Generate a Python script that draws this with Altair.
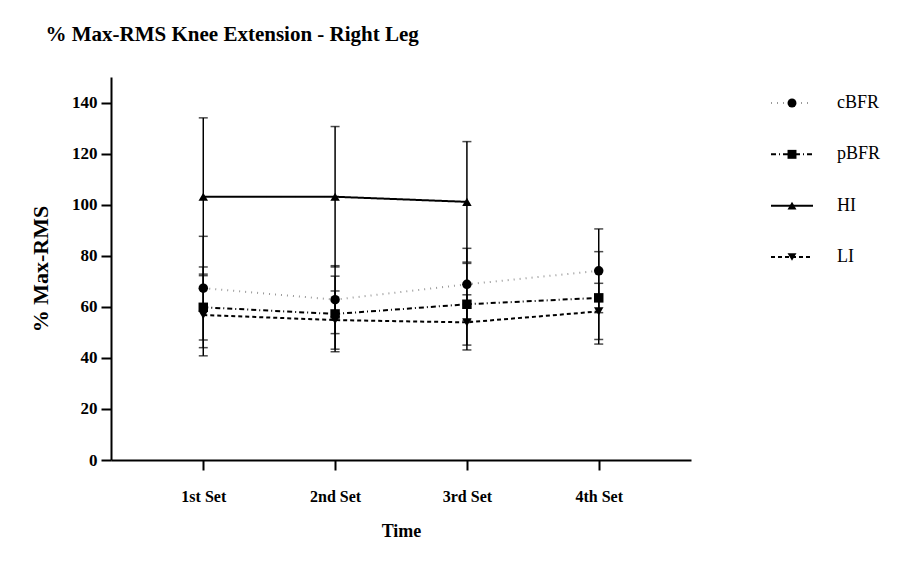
import altair as alt
import pandas as pd

times = ["1st Set", "2nd Set", "3rd Set", "4th Set"]
series = ["cBFR", "pBFR", "HI", "LI"]

cbfr_mean = [67.3, 62.8, 68.8, 74.1]
cbfr_sd = [20.3, 13.3, 14.1, 16.4]
pbfr_mean = [59.8, 57.2, 61.0, 63.5]
pbfr_sd = [15.8, 14.8, 16.0, 18.1]
hi_mean = [103.1, 103.1, 101.1, None]
hi_sd = [30.9, 27.5, 23.6, None]
li_mean = [56.8, 54.8, 53.9, 58.2]
li_sd = [16.0, 11.4, 10.8, 11.0]

y_ticks = [0, 20, 40, 60, 80, 100, 120, 140]

rows = []
for name, means, sds in [("cBFR", cbfr_mean, cbfr_sd), ("pBFR", pbfr_mean, pbfr_sd),
                         ("HI", hi_mean, hi_sd), ("LI", li_mean, li_sd)]:
    for t, m, s in zip(times, means, sds):
        if m is not None:
            rows.append({"series": name, "time": t, "mean": m, "sd": s})
df = pd.DataFrame(rows)
legend_df = pd.DataFrame({"series": series})

FONT = "Liberation Serif"
dash_range = [[1, 5], [5, 3, 1, 3], [1, 0], [4, 3]]
color_range = ["#9a9a9a", "black", "black", "black"]
shape_range = ["circle", "square", "triangle-up", "triangle-down"]

x_enc = alt.X("time:N", sort=times,
              scale=alt.Scale(type="point", padding=0.7),
              axis=alt.Axis(title="Time", labelAngle=0, labelFont=FONT, labelFontSize=16,
                            labelFontWeight="bold", labelColor="black", labelPadding=18,
                            titleFont=FONT, titleFontSize=18, titleFontWeight="bold",
                            titleColor="black", titlePadding=18,
                            domainColor="black", domainWidth=2, tickColor="black",
                            tickWidth=2, tickSize=10, grid=False))
y_scale = alt.Scale(domain=[0, 150], nice=False, zero=True)
y_axis = alt.Axis(title="% Max-RMS", values=y_ticks, labelFont=FONT, labelFontSize=17,
                  labelFontWeight="bold", labelColor="black", labelPadding=4,
                  titleFont=FONT, titleFontSize=22, titleFontWeight="bold",
                  titleColor="black", titlePadding=19,
                  domainColor="black", domainWidth=2, tickColor="black",
                  tickWidth=2, tickSize=10, grid=False)

base = alt.Chart(df).encode(x=x_enc)

lines = base.mark_line(strokeWidth=2).encode(
    y=alt.Y("mean:Q", scale=y_scale, axis=y_axis),
    color=alt.Color("series:N", scale=alt.Scale(domain=series, range=color_range), legend=None),
    strokeDash=alt.StrokeDash("series:N", scale=alt.Scale(domain=series, range=dash_range), legend=None),
    detail="series:N",
)

err = base.transform_calculate(
    lo="datum.mean - datum.sd", hi="datum.mean + datum.sd"
)
rules = err.mark_rule(color="black", strokeWidth=1.5).encode(
    y=alt.Y("lo:Q", scale=y_scale), y2="hi:Q")
caps = err.transform_fold(["lo", "hi"], as_=["end", "val"]).mark_tick(
    color="black", thickness=1.5, size=9).encode(y=alt.Y("val:Q", scale=y_scale))

points = base.mark_point(filled=True, opacity=1, color="black", size=90).encode(
    y=alt.Y("mean:Q", scale=y_scale),
    shape=alt.Shape("series:N", scale=alt.Scale(domain=series, range=shape_range), legend=None),
)

main = alt.layer(lines, rules, caps, points).properties(width=580, height=383)

leg_base = alt.Chart(legend_df).encode(
    y=alt.Y("series:N", sort=series,
            scale=alt.Scale(type="point", range=[26, 180], padding=0), axis=None))
leg_lines = leg_base.mark_rule(strokeWidth=2).encode(
    x=alt.value(0), x2=alt.value(42),
    color=alt.Color("series:N", scale=alt.Scale(domain=series, range=color_range), legend=None),
    strokeDash=alt.StrokeDash("series:N", scale=alt.Scale(domain=series, range=dash_range), legend=None),
)
leg_points = leg_base.mark_point(filled=True, opacity=1, color="black", size=80).encode(
    x=alt.value(21),
    shape=alt.Shape("series:N", scale=alt.Scale(domain=series, range=shape_range), legend=None),
)
leg_text = leg_base.mark_text(align="left", baseline="middle", font=FONT, fontSize=18,
                              color="black").encode(x=alt.value(66), text="series:N")
legend = alt.layer(leg_lines, leg_points, leg_text).properties(width=110, height=383)

chart = alt.hconcat(main, legend, spacing=79).properties(
    title=alt.TitleParams("% Max-RMS Knee Extension - Right Leg", anchor="start", font=FONT,
                          fontSize=21, fontWeight="bold", color="black", dx=16, offset=32),
    padding={"left": 29, "top": 24, "right": 0, "bottom": 0},
).configure_view(stroke=None).resolve_scale(x="independent", y="independent")

chart.save("out.html", embed_options={"renderer": "svg", "actions": False})
